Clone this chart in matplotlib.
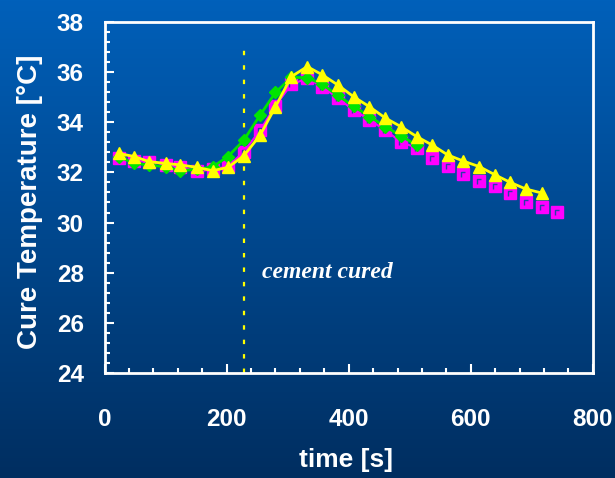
import numpy as np
import matplotlib.pyplot as plt
from matplotlib.path import Path
from matplotlib.ticker import MultipleLocator

plt.switch_backend('Agg')

plt.rcParams['font.family'] = ['Liberation Sans', 'DejaVu Sans']
plt.rcParams['font.weight'] = 'bold'

# Sampling times (s)
tempo = [23, 49, 73, 100, 124, 152, 177, 202, 228, 255, 280, 306, 332, 357,
         382, 408, 434, 460, 486, 512, 537, 562, 588, 614, 640, 664, 690, 716]
tempo_mag = tempo + [741]

# Cure temperatures (°C)
temp_amarelo = [32.76, 32.63, 32.43, 32.36, 32.30, 32.20, 32.07, 32.20, 32.66,
                33.49, 34.62, 35.82, 36.22, 35.89, 35.49, 35.02, 34.62, 34.17,
                33.82, 33.42, 33.09, 32.70, 32.45, 32.23, 31.90, 31.61, 31.34,
                31.18]
temp_verde = [32.63, 32.36, 32.30, 32.22, 32.07, 32.12, 32.22, 32.63, 33.28,
              34.29, 35.19, 35.79, 35.78, 35.51, 35.07, 34.64, 34.23, 33.83,
              33.45, 33.08]
temp_magenta = [32.56, 32.45, 32.43, 32.31, 32.22, 32.04, 32.12, 32.24, 32.82,
                33.69, 34.66, 35.51, 35.75, 35.42, 34.96, 34.49, 34.10, 33.68,
                33.21, 32.97, 32.59, 32.27, 31.94, 31.67, 31.47, 31.17, 30.83,
                30.63, 30.43]
n_linha = 20  # green and magenta curves are joined only over these points

t_cura = 228
rotulo_cura = "cement cured"

AMARELO = '#FFFF00'
VERDE = '#00E400'
MAGENTA = '#FF00FF'

# little corner mark inside the magenta squares
canto = Path([(1, 1), (-0.41, -0.47), (-0.41, 0.35), (0.41, 0.35)],
             [Path.MOVETO, Path.MOVETO, Path.LINETO, Path.LINETO])

fig = plt.figure(figsize=(6.15, 4.78), dpi=100)

# fundo em degradê
fundo = fig.add_axes([0, 0, 1, 1], zorder=-10)
topo = np.array([0, 96, 186]) / 255
base = np.array([0, 46, 96]) / 255
frac = np.linspace(0, 1, 256)[:, None]
grad = topo[None, :] * (1 - frac) + base[None, :] * frac
fundo.imshow(grad[:, None, :], aspect='auto', extent=[0, 1, 0, 1])
fundo.axis('off')

ax = fig.add_axes([0.170, 0.2197, 0.794, 0.7343])
ax.patch.set_alpha(0)

ax.plot(tempo[:n_linha], temp_magenta[:n_linha], color=MAGENTA, lw=1.5, zorder=2)
ax.plot(tempo_mag, temp_magenta, ls='none', marker='s', ms=8, color=MAGENTA, zorder=2)
ax.plot(tempo_mag, temp_magenta, ls='none', marker=canto, ms=8,
        mfc='none', mec='#2a3fa8', mew=1.0, zorder=2.1)
ax.plot(tempo[:n_linha], temp_verde, color=VERDE, lw=2, marker='D', ms=6, zorder=3)
ax.plot(tempo, temp_amarelo, color=AMARELO, lw=2, marker='^', ms=9, zorder=4)

ax.plot([t_cura, t_cura], [24, 36.95], color=AMARELO, lw=1.6,
        dashes=(2, 4.5), zorder=1)
ax.text(365, 28.0, rotulo_cura, color='white', fontsize=17,
        family='Liberation Serif', style='italic', weight='bold',
        ha='center', va='center')

ax.set_xlim(0, 800)
ax.set_ylim(24, 38)
ax.xaxis.set_major_locator(MultipleLocator(200))
ax.xaxis.set_minor_locator(MultipleLocator(40))
ax.yaxis.set_major_locator(MultipleLocator(2))
ax.yaxis.set_minor_locator(MultipleLocator(0.4))

for lado in ax.spines.values():
    lado.set_color('white')
    lado.set_linewidth(2)
ax.tick_params(which='both', direction='in', colors='white', width=1.5)
ax.tick_params(which='major', length=6.5, labelsize=17.5)
ax.tick_params(which='minor', length=3.5)
ax.tick_params(axis='x', pad=25)
ax.tick_params(axis='y', pad=15)

ax.set_xlabel("time [s]", fontsize=19, color='white', fontweight='bold')
ax.set_ylabel("Cure Temperature [°C]", fontsize=20, color='white', fontweight='bold')
ax.xaxis.set_label_coords(0.494, -0.214)
ax.yaxis.set_label_coords(-0.126, 0.487)

fig.savefig('out.png', dpi=100)
